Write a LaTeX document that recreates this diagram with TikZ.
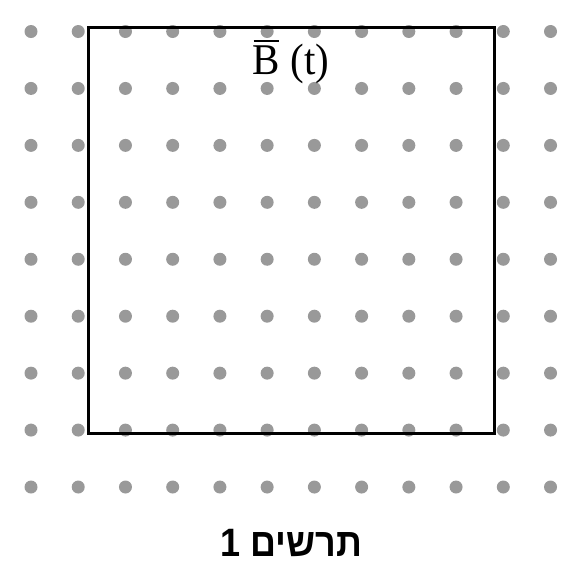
\documentclass[tikz,border=0pt]{standalone}
\usepackage{fontspec}
\setmainfont{Liberation Serif}
\newfontfamily\hebfont[Script=Hebrew,BoldFont={Liberation Sans Bold}]{Liberation Sans}
\TeXXeTstate=1
\newcommand{\barB}{\rlap{\kern0.02em\raisebox{0.72em}{\rule{0.62em}{0.045em}}}B}

\tikzset{
  dot/.style={fill=black!40, draw=none},
  frame/.style={draw=black, line width=3pt},
}

\begin{document}
\begin{tikzpicture}[x=1pt,y=-1pt]
\tikzstyle{every node}+=[inner sep=0pt]
\useasboundingbox (0,0) rectangle (583,566);
% field dots
\foreach \i in {0,...,11}
  \foreach \j in {0,...,8}
    \fill [dot] ({31+47.23*\i},{31.5+56.94*\j}) circle (6.5pt);
% the loop
\draw [frame] (88,27.5) rectangle (494,433);
\node (field) [anchor=base] at (291,74)
  {\scalebox{1}[1.07]{\fontsize{41}{46}\selectfont \barB\ (t)}};
\node (caption) [anchor=base] at (291.5,556)
  {\scalebox{1}[1.1]{\hebfont\bfseries\fontsize{36}{40}\selectfont\beginR תרשים 1\endR}};
\end{tikzpicture}
\end{document}
